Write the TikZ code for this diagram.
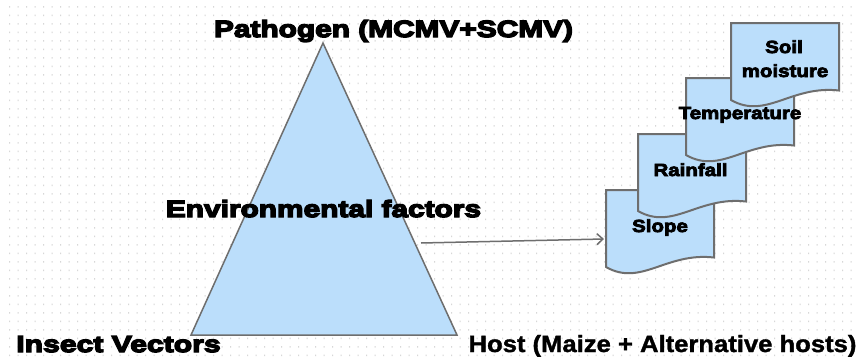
\documentclass[tikz,border=0pt]{standalone}
\usepackage{fontspec}
\setmainfont{Liberation Sans}
\newfontfamily\heavyA[FakeBold=6,FakeStretch=1.27]{Liberation Sans Bold}
\newfontfamily\heavyB[FakeBold=6,FakeStretch=1.31]{Liberation Sans Bold}
\newfontfamily\hostf[FakeBold=1.5,FakeStretch=1.09]{Liberation Sans Bold}
\newfontfamily\labf[FakeBold=4.5,FakeStretch=1.17]{Liberation Sans Bold}
\usetikzlibrary{arrows.meta}
\definecolor{fillblue}{RGB}{187,222,251}
\definecolor{edgegray}{RGB}{110,110,110}
\definecolor{dotgray}{RGB}{215,215,215}
\tikzset{
  shapeedge/.style={draw=edgegray, fill=fillblue, line width=1.5pt, line join=miter},
  docedge/.style={draw=edgegray, fill=fillblue, line width=2pt, line join=miter},
  bigtxt/.style={inner sep=0pt, anchor=base, font=\heavyA\fontsize{23.5}{26}\selectfont},
  hosttxt/.style={inner sep=0pt, anchor=base, font=\hostf\fontsize{23.5}{26}\selectfont},
  labtxt/.style={inner sep=0pt, anchor=base, font=\labf\fontsize{17.5}{20}\selectfont},
  conn/.style={draw=edgegray, line width=1.5pt, -{Straight Barb[length=6pt,width=11pt]}}
}
\newcommand\docpath[2]{%
  \path[docedge] (#1,#2) -- (#1+108,#2) -- (#1+108,#2+67.5)
    .. controls (#1+60,#2+62) and (#1+35,#2+97) .. (#1,#2+77) -- cycle;}
\begin{document}
\begin{tikzpicture}[x=1pt,y=-1pt]
\fill[white] (0,0) rectangle (858,356);
\useasboundingbox (0,0) rectangle (858,356);
% dotted background grid
\fill[dotgray] \foreach \i in {0,...,100} {\foreach \j in {0,...,41} {(9+8.5*\i,6+8.5*\j) rectangle ++(1,1.6)}};
% triangle
\coordinate (apex) at (323,43);
\coordinate (bl) at (191,335);
\coordinate (br) at (457,335);
\path[shapeedge] (apex) -- (br) -- (bl) -- cycle;
% documents
\docpath{606}{190}
\docpath{638}{134}
\docpath{686}{78}
\docpath{731}{23}
% connector
\coordinate (arrS) at (421,243);
\coordinate (arrE) at (604,239);
\draw[conn] (arrS) -- (arrE);
% texts
\node[bigtxt] (path) at (393.5,37) {Pathogen (MCMV+SCMV)};
\node[bigtxt] (env) at (323.5,217) {Environmental factors};
\node[bigtxt, font=\heavyB\fontsize{23}{26}\selectfont] (ins) at (118.5,352) {Insect Vectors};
\node[hosttxt] (host) at (662.5,352) {Host (Maize + Alternative hosts)};
\node[labtxt] (soil) at (784,53) {Soil};
\node[labtxt] (moist) at (785,77) {moisture};
\node[labtxt] (temp) at (740,119) {Temperature};
\node[labtxt] (rain) at (690.5,176) {Rainfall};
\node[labtxt] (slope) at (660,232) {Slope};
\end{tikzpicture}
\end{document}
